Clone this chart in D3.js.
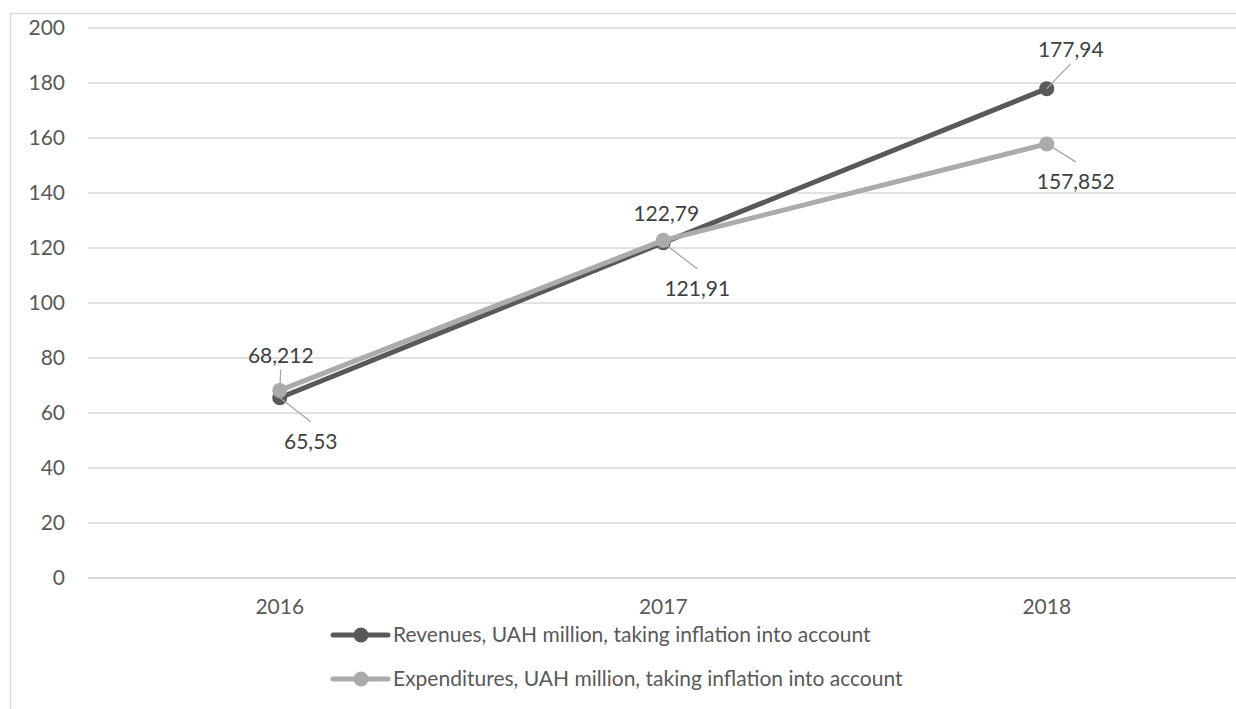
<!DOCTYPE html>
<html>
<head>
<meta charset="utf-8">
<script src="https://cdn.jsdelivr.net/npm/d3@7"></script>
<style>
  html, body { margin: 0; padding: 0; background: #fff; }
  svg { display: block; font-family: Lato, "Open Sans", sans-serif; }
</style>
</head>
<body>
<svg id="chart" width="1236" height="709"></svg>
<script>
// Years on the category axis
const years = ["2016", "2017", "2018"];
// UAH million, adjusted for inflation
const revenues = [65.53, 121.91, 177.94];
const expenditures = [68.212, 122.79, 157.852];
// Value-axis ticks
const yTicks = [0, 20, 40, 60, 80, 100, 120, 140, 160, 180, 200];
// Series names shown in the legend
const seriesNames = [
  "Revenues, UAH million, taking inflation into account",
  "Expenditures, UAH million, taking inflation into account"
];
// Where each data label sits relative to its point (px)
const revenueLabelOffsets = [[31, 44], [34, 46], [24, -39]];
const expenditureLabelOffsets = [[1, -35], [3, -27], [29, 38]];

const fmt = v => String(v).replace(".", ",");
const FONT = "21px";

const svg = d3.select("#chart");
const W = 1236, H = 709;
const plot = { left: 88, right: 1238.5, top: 28, bottom: 578 };

const x = d3.scaleBand().domain(years).range([plot.left, plot.right]).padding(0);
const cx = d => x(d) + x.bandwidth() / 2;
const y = d3.scaleLinear().domain([0, 200]).range([plot.bottom, plot.top]);

// Outer chart frame (runs off the right and bottom edges)
svg.append("path")
  .attr("d", `M10.5,${H} L10.5,13.5 L${W},13.5`)
  .attr("fill", "none").attr("stroke", "#d9d9d9").attr("stroke-width", 1.3);

// Horizontal gridlines + value labels
const yAxis = d3.axisLeft(y).tickValues(yTicks).tickSize(0).tickPadding(23)
  .tickFormat(d3.format("d"));
const gy = svg.append("g").attr("transform", `translate(${plot.left},0)`).call(yAxis);
gy.select(".domain").remove();
gy.selectAll("text").attr("fill", "#595959").style("font-size", FONT)
  .style("font-family", "Lato, 'Open Sans', sans-serif");

svg.append("g").selectAll("line").data(yTicks).join("line")
  .attr("x1", plot.left).attr("x2", W)
  .attr("y1", d => y(d)).attr("y2", d => y(d))
  .attr("stroke", "#d9d9d9")
  .attr("stroke-width", d => d === 0 ? 2 : 1.3);

// Category labels
const xAxis = d3.axisBottom(x).tickSize(0).tickPadding(21);
const gx = svg.append("g").attr("transform", `translate(0,${plot.bottom})`).call(xAxis);
gx.select(".domain").remove();
gx.selectAll("text").attr("fill", "#595959").style("font-size", FONT)
  .style("font-family", "Lato, 'Open Sans', sans-serif");

const line = d3.line().x((d, i) => cx(years[i])).y(d => y(d));

const series = [
  { name: seriesNames[0], values: revenues, color: "#595959", offsets: revenueLabelOffsets },
  { name: seriesNames[1], values: expenditures, color: "#ababab", offsets: expenditureLabelOffsets }
];

series.forEach(s => {
  const g = svg.append("g");
  g.append("path").datum(s.values).attr("d", line)
    .attr("fill", "none").attr("stroke", s.color)
    .attr("stroke-width", 5).attr("stroke-linejoin", "round");
  g.selectAll("circle").data(s.values).join("circle")
    .attr("cx", (d, i) => cx(years[i])).attr("cy", d => y(d))
    .attr("r", 7.5).attr("fill", s.color);
});

// Data labels with leader lines
series.forEach(s => {
  const g = svg.append("g");
  s.values.forEach((v, i) => {
    const px = cx(years[i]), py = y(v);
    const [dx, dy] = s.offsets[i];
    const lx = px + dx, ly = py + dy;
    const dist = Math.hypot(dx, dy);
    if (dist > 30) {
      const ey = dy > 0 ? ly - 20 : ly + 14;
      g.append("line")
        .attr("x1", px).attr("y1", py).attr("x2", lx).attr("y2", ey)
        .attr("stroke", "#a6a6a6").attr("stroke-width", 1.3);
    }
    g.append("text")
      .attr("x", lx).attr("y", ly).attr("dy", "0.35em")
      .attr("text-anchor", "middle")
      .attr("fill", "#404040").style("font-size", FONT)
      .text(fmt(v));
  });
});

// Legend
const legend = svg.append("g");
const legendRows = [635, 679];
series.forEach((s, i) => {
  const ly = legendRows[i];
  legend.append("line").attr("x1", 333).attr("x2", 388).attr("y1", ly).attr("y2", ly)
    .attr("stroke", s.color).attr("stroke-width", 5).attr("stroke-linecap", "round");
  legend.append("circle").attr("cx", 361).attr("cy", ly).attr("r", 7.5).attr("fill", s.color);
  legend.append("text").attr("x", 393).attr("y", ly).attr("dy", "0.35em")
    .attr("fill", "#595959").style("font-size", FONT).text(s.name);
});
</script>
</body>
</html>
